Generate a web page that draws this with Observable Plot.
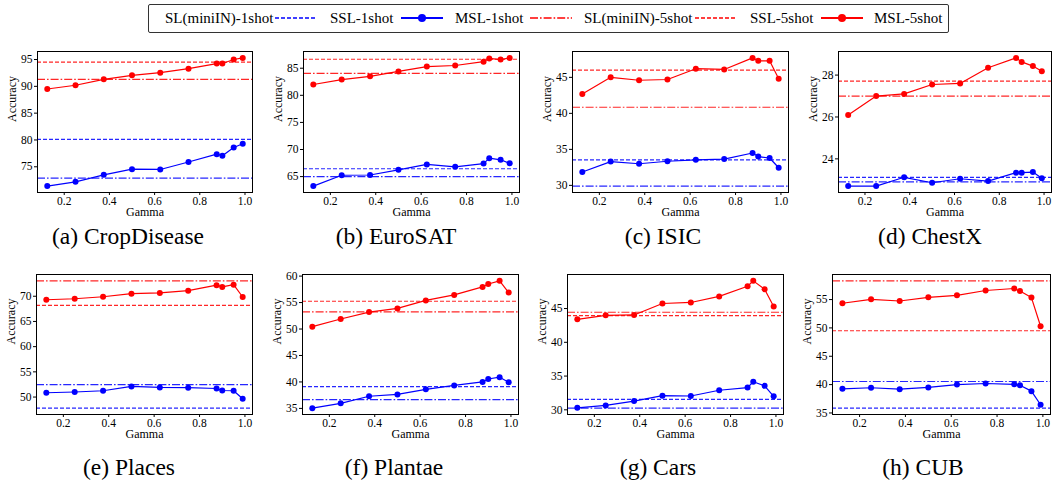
<!DOCTYPE html>
<html><head><meta charset="utf-8">
<script src="https://cdn.jsdelivr.net/npm/d3@7"></script>
<script src="https://cdn.jsdelivr.net/npm/@observablehq/plot@0.6"></script>
<style>
body{margin:0;background:#fff;font-family:"Liberation Serif",serif;}
#root{position:relative;width:1053px;height:489px;overflow:hidden;font-family:"Liberation Serif",serif;color:#000;}
.cap{position:absolute;font-family:"Liberation Serif",serif;font-size:23.5px;transform:translate(-50%,-50%);white-space:nowrap;line-height:1;}
.lg{position:absolute;font-family:"Liberation Serif",serif;font-size:15px;top:18px;transform:translateY(-50%);white-space:nowrap;line-height:1;}
.lgh{position:absolute;top:13px;}
#legend{position:absolute;left:148px;top:4px;width:801px;height:29px;border:1px solid #333;border-radius:2px;box-sizing:border-box;}
svg text{font-family:"Liberation Serif",serif;}
</style></head><body><div id="root"><div id="legend"></div></div>
<script>
// ---------------- data ----------------
const gamma = [0.125, 0.25, 0.375, 0.5, 0.625, 0.75, 0.875, 0.9, 0.95, 0.99];
const captions = ["(a) CropDisease","(b) EuroSAT","(c) ISIC","(d) ChestX","(e) Places","(f) Plantae","(g) Cars","(h) CUB"];
const msl5shot = [
  [89.5, 90.2, 91.3, 92.05, 92.55, 93.3, 94.25, 94.25, 95.0, 95.3],
  [82.0, 82.9, 83.5, 84.4, 85.3, 85.5, 86.2, 86.8, 86.6, 86.9],
  [42.7, 45.0, 44.6, 44.7, 46.2, 46.1, 47.7, 47.3, 47.3, 44.8],
  [26.1, 27.0, 27.1, 27.55, 27.6, 28.35, 28.82, 28.63, 28.43, 28.18],
  [69.3, 69.5, 69.9, 70.5, 70.65, 71.1, 72.2, 71.85, 72.3, 69.85],
  [50.45, 51.9, 53.2, 53.9, 55.4, 56.45, 57.95, 58.5, 59.1, 56.9],
  [43.4, 44.0, 44.05, 45.75, 45.9, 46.8, 48.3, 49.1, 47.85, 45.3],
  [54.35, 55.05, 54.75, 55.4, 55.75, 56.6, 56.95, 56.5, 55.35, 50.3]
];
const msl1shot = [
  [71.4, 72.2, 73.5, 74.55, 74.5, 75.9, 77.35, 77.05, 78.6, 79.3],
  [63.25, 65.25, 65.3, 66.25, 67.25, 66.8, 67.4, 68.4, 68.1, 67.45],
  [31.85, 33.3, 33.0, 33.35, 33.55, 33.65, 34.5, 34.0, 33.8, 32.45],
  [22.7, 22.7, 23.12, 22.86, 23.05, 22.94, 23.34, 23.34, 23.37, 23.07],
  [50.85, 51.0, 51.25, 52.1, 51.9, 51.85, 51.7, 51.3, 51.25, 49.65],
  [35.05, 35.95, 37.3, 37.65, 38.6, 39.35, 40.0, 40.55, 40.9, 39.95],
  [30.3, 30.65, 31.3, 32.1, 32.05, 32.9, 33.3, 34.15, 33.55, 32.0],
  [39.25, 39.45, 39.2, 39.5, 40.0, 40.2, 40.05, 39.9, 38.85, 36.45]
];
const sl1shot  = [72.9, 65.0, 29.9, 22.9, 52.45, 36.65, 30.25, 40.55];
const ssl1shot = [80.1, 66.45, 33.55, 23.12, 47.8, 39.1, 31.55, 35.85];
const sl5shot  = [91.3, 84.05, 40.85, 27.0, 73.05, 53.25, 44.45, 58.3];
const ssl5shot = [94.5, 86.65, 46.0, 27.71, 68.2, 55.25, 43.95, 49.5];
const xTicks = [0.2, 0.4, 0.6, 0.8, 1.0];
const yTicks = [
  [75,80,85,90,95],[65,70,75,80,85],[30,35,40,45],[24,26,28],
  [50,55,60,65,70],[35,40,45,50,55,60],[30,35,40,45],[35,40,45,50,55]
];
const legendLabels = ["SL(miniIN)-1shot","SSL-1shot","MSL-1shot","SL(miniIN)-5shot","SSL-5shot","MSL-5shot"];

// ---------------- layout ----------------
const FONT = '"Liberation Serif",serif';
const frames = [
  [37,51,252,192],[303,51,519,192],[572,51,788,192],[838,51,1051,192],
  [36,274,252,414],[302,274,518,414],[567,274,783,414],[832,274,1050,414]
];
const capPos = [[128,237],[396,237],[663,237],[930,237],[129,468],[394,468],[658,468],[923,468]];
const DASHDOT = "8,2,1.6,2", DASHED = "4,2";
const BLUE = "#0000ff", RED = "#ff0000";
const ML = 36, MR = 4, MT = 4, MB = 34;
const root = document.getElementById("root");

captions.forEach((c, i) => {
  const [x0,y0,x1,y1] = frames[i];
  const rows = gamma.map((g, j) => ({g, v1: msl1shot[i][j], v5: msl5shot[i][j]}));
  const all = [...msl1shot[i], ...msl5shot[i], sl1shot[i], ssl1shot[i], sl5shot[i], ssl5shot[i]];
  const lo = d3.min(all), hi = d3.max(all), pad = (hi - lo) * 0.05;
  const gx = d3.extent(gamma), gpad = (gx[1] - gx[0]) * 0.05;
  const chart = Plot.plot({
    width: ML + (x1 - x0) + MR, height: MT + (y1 - y0) + MB,
    marginLeft: ML, marginRight: MR, marginTop: MT, marginBottom: MB,
    x: {domain: [gx[0] - gpad, gx[1] + gpad]},
    y: {domain: [lo - pad, hi + pad]},
    style: {fontFamily: FONT, fontSize: "12px", color: "#000", background: "transparent", overflow: "visible"},
    marks: [
      Plot.axisX({ticks: xTicks, tickFormat: d3.format(".1f"), tickSize: 3, tickPadding: 1, label: null, fontSize: 11.5}),
      Plot.axisY({ticks: yTicks[i], tickFormat: d3.format("d"), tickSize: 3, tickPadding: 2, label: null, fontSize: 11.5}),
      Plot.ruleY([sl1shot[i]], {stroke: BLUE, strokeDasharray: DASHDOT, strokeWidth: 1.2, strokeOpacity: 0.85}),
      Plot.ruleY([ssl1shot[i]], {stroke: BLUE, strokeDasharray: DASHED, strokeWidth: 1.2, strokeOpacity: 0.85}),
      Plot.ruleY([sl5shot[i]], {stroke: RED, strokeDasharray: DASHDOT, strokeWidth: 1.2, strokeOpacity: 0.85}),
      Plot.ruleY([ssl5shot[i]], {stroke: RED, strokeDasharray: DASHED, strokeWidth: 1.2, strokeOpacity: 0.85}),
      Plot.line(rows, {x: "g", y: "v1", stroke: BLUE, strokeWidth: 1.2}),
      Plot.dot(rows, {x: "g", y: "v1", fill: BLUE, r: 3}),
      Plot.line(rows, {x: "g", y: "v5", stroke: RED, strokeWidth: 1.2}),
      Plot.dot(rows, {x: "g", y: "v5", fill: RED, r: 3}),
      Plot.frame({stroke: "#000", strokeWidth: 1}),
      Plot.text(["Gamma"], {frameAnchor: "bottom", dy: 23.5, fontSize: 12}),
      Plot.text(["Accuracy"], {frameAnchor: "left", dx: -25, rotate: -90, fontSize: 12})
    ]
  });
  chart.style.position = "absolute";
  chart.style.left = (x0 - ML) + "px";
  chart.style.top = (y0 - MT) + "px";
  root.append(chart);

  const cap = document.createElement("div");
  cap.className = "cap";
  cap.style.fontFamily = FONT;
  cap.textContent = c;
  cap.style.left = capPos[i][0] + "px";
  cap.style.top = capPos[i][1] + "px";
  root.append(cap);
});

// ---------------- legend ----------------
const textX = [165, 330, 455, 584, 750, 874];
const handles = [
  null,
  {x: 275, color: BLUE, dash: DASHED, dot: false},
  {x: 401, color: BLUE, dash: null, dot: true},
  {x: 530, color: RED, dash: DASHDOT, dot: false},
  {x: 695, color: RED, dash: DASHED, dot: false},
  {x: 821, color: RED, dash: null, dot: true}
];
legendLabels.forEach((t, i) => {
  const d = document.createElement("div");
  d.className = "lg"; d.style.fontFamily = FONT; d.textContent = t; d.style.left = textX[i] + "px";
  root.append(d);
  const h = handles[i];
  if (h) {
    const ns = "http://www.w3.org/2000/svg";
    const s = document.createElementNS(ns, "svg");
    s.setAttribute("width", 42); s.setAttribute("height", 10);
    s.setAttribute("class", "lgh"); s.style.left = h.x + "px";
    const l = document.createElementNS(ns, "line");
    l.setAttribute("x1", 0); l.setAttribute("x2", 42); l.setAttribute("y1", 5); l.setAttribute("y2", 5);
    l.setAttribute("stroke", h.color); l.setAttribute("stroke-width", h.dot ? 1.8 : 1.4);
    if (h.dash) l.setAttribute("stroke-dasharray", h.dash);
    s.append(l);
    if (h.dot) {
      const c = document.createElementNS(ns, "circle");
      c.setAttribute("cx", 21); c.setAttribute("cy", 5); c.setAttribute("r", 4); c.setAttribute("fill", h.color);
      s.append(c);
    }
    root.append(s);
  }
});
</script></body></html>
